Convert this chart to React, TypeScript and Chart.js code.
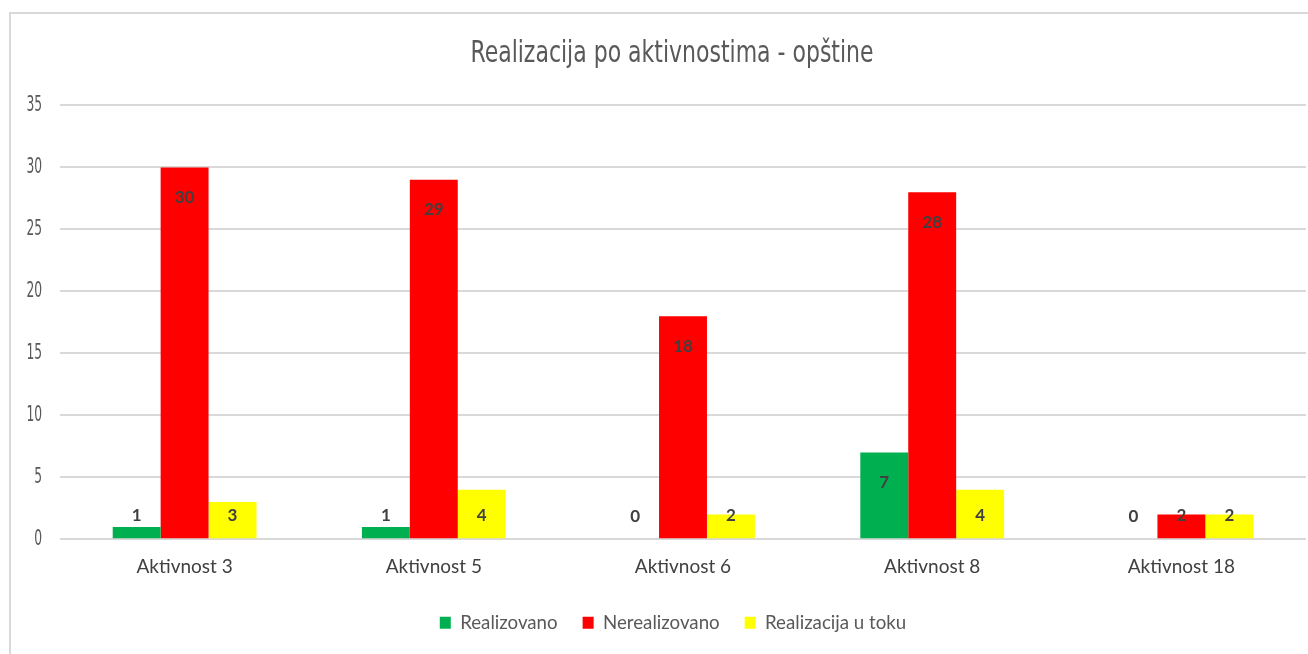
import React, { useEffect, useRef } from "react";
import { Chart, registerables } from "chart.js";

Chart.register(...registerables);

const titleText = "Realizacija po aktivnostima - opštine";
const categories = ["Aktivnost 3", "Aktivnost 5", "Aktivnost 6", "Aktivnost 8", "Aktivnost 18"];
const seriesNames = ["Realizovano", "Nerealizovano", "Realizacija u toku"];
const realizovano = [1, 1, 0, 7, 0];
const nerealizovano = [30, 29, 18, 28, 2];
const uToku = [3, 4, 2, 4, 2];
const seriesColors = ["#00B050", "#FF0000", "#FFFF00"];
const yMax = 35;
const yStep = 5;

const NARROW = '"Liberation Sans Narrow", "DejaVu Sans Condensed", sans-serif';
const BODY = 'Lato, "Open Sans", sans-serif';
const TITLE_SIZE = 27;
const TITLE_PAD_TOP = 43;

const labelPlugin = {
  id: "insideEndLabels",
  afterDatasetsDraw(chart: any) {
    const ctx = chart.ctx;
    ctx.save();
    ctx.font = `bold 17px ${BODY}`;
    ctx.fillStyle = "#404040";
    ctx.textAlign = "center";
    ctx.textBaseline = "middle";
    chart.data.datasets.forEach((ds: any, i: number) => {
      const meta = chart.getDatasetMeta(i);
      meta.data.forEach((bar: any, j: number) => {
        const v = ds.data[j];
        const y = Math.min(bar.y + 30, bar.base - 23);
        ctx.fillText(String(v), bar.x, y);
      });
    });
    ctx.restore();
  },
};

// Draws the title and the y tick labels in a horizontally condensed face,
// and centres the title/legend on the (wider) chart frame.
const narrowTextPlugin = {
  id: "narrowText",
  afterLayout(chart: any) {
    const lg = chart.legend;
    if (lg) {
      lg.left += 20;
      lg.right += 20;
    }
  },
  afterDraw(chart: any) {
    const ctx = chart.ctx;
    const tb = chart.titleBlock;
    if (tb) {
      const cx = (tb.left + tb.right) / 2 + 19;
      const cy = tb.top + 54;
      ctx.save();
      ctx.translate(cx, cy);
      ctx.scale(0.815, 1);
      ctx.font = `30px ${NARROW}`;
      ctx.fillStyle = "#595959";
      ctx.textAlign = "center";
      ctx.textBaseline = "middle";
      ctx.fillText(titleText, 0, 0);
      ctx.restore();
    }
    const ys = chart.scales.y;
    if (ys) {
      ctx.save();
      ctx.font = `22px ${NARROW}`;
      ctx.fillStyle = "#595959";
      ctx.textAlign = "right";
      ctx.textBaseline = "middle";
      ys.ticks.forEach((t: any) => {
        const y = ys.getPixelForValue(t.value);
        ctx.save();
        ctx.translate(42, y);
        ctx.scale(0.62, 1);
        ctx.fillText(String(t.value), 0, 0);
        ctx.restore();
      });
      ctx.restore();
    }
  },
};

export default function App() {
  const ref = useRef<HTMLCanvasElement | null>(null);

  useEffect(() => {
    document.body.style.margin = "0";
    document.body.style.overflow = "hidden";
    const canvas = ref.current;
    if (!canvas) return;
    const chart = new Chart(canvas, {
      type: "bar",
      data: {
        labels: categories,
        datasets: [realizovano, nerealizovano, uToku].map((d, i) => ({
          label: seriesNames[i],
          data: d,
          backgroundColor: seriesColors[i],
          borderWidth: 0,
          categoryPercentage: 0.577,
          barPercentage: 1,
        })),
      },
      options: {
        responsive: false,
        animation: false,
        layout: { padding: { left: 0, right: 2, top: 0, bottom: 12 } },
        plugins: {
          title: {
            display: true,
            text: titleText,
            color: "rgba(0,0,0,0)",
            font: { family: NARROW, size: TITLE_SIZE, weight: "normal" },
            padding: { top: TITLE_PAD_TOP, bottom: 30 },
          },
          legend: {
            position: "bottom",
            labels: {
              color: "#595959",
              font: { family: BODY, size: 18.7 },
              boxWidth: 11,
              boxHeight: 12,
              padding: 25,
            },
          },
          tooltip: { enabled: false },
        },
        scales: {
          x: {
            grid: { display: false, drawTicks: false },
            border: { display: false },
            ticks: {
              color: "#404040",
              font: { family: BODY, size: 19 },
              padding: 16,
            },
            afterFit: (s: any) => {
              s.height = 49;
            },
          },
          y: {
            min: 0,
            max: yMax,
            grid: { color: "#d9d9d9", lineWidth: 2, drawTicks: false },
            border: { display: false },
            ticks: {
              stepSize: yStep,
              color: "rgba(0,0,0,0)",
              font: { family: NARROW, size: 18 },
              padding: 18,
            },
            afterFit: (s: any) => {
              s.width = 60;
            },
          },
        },
      },
      plugins: [labelPlugin, narrowTextPlugin],
    });
    return () => chart.destroy();
  }, []);

  return (
    <div style={{ position: "relative", width: 1308, height: 654, overflow: "hidden", background: "#fff" }}>
      <div
        style={{
          position: "absolute",
          left: 9,
          top: 12,
          width: 1400,
          height: 700,
          border: "2px solid #d9d9d9",
          boxSizing: "border-box",
        }}
      />
      <canvas ref={ref} width={1308} height={654} style={{ position: "absolute", left: 0, top: 0 }} />
    </div>
  );
}
